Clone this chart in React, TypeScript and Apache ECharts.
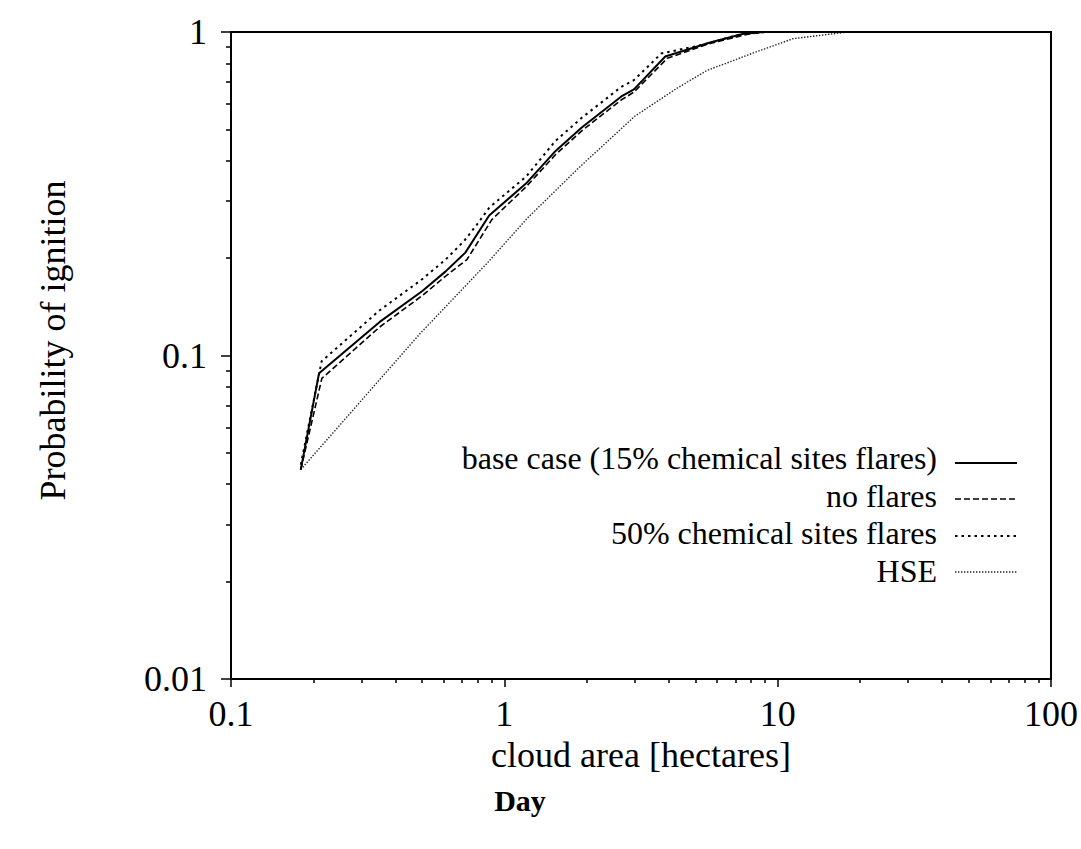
import React, { useEffect, useRef } from "react";
import * as echarts from "echarts";

// ---- data (cloud area in hectares, probability of ignition) ----
const baseX = [0.18, 0.21, 0.35, 0.5, 0.61, 0.72, 0.88, 1.2, 1.54, 1.92, 2.68, 2.98, 3.88, 5.66, 7.5, 9, 100];
const baseY = [0.0444, 0.0882, 0.127, 0.158, 0.182, 0.208, 0.271, 0.34, 0.429, 0.507, 0.632, 0.665, 0.84, 0.928, 0.988, 1, 1];

const noFlaresX = [0.18, 0.215, 0.35, 0.5, 0.61, 0.73, 0.9, 1.2, 1.54, 1.92, 2.68, 2.98, 3.95, 5.66, 7.8, 9, 100];
const noFlaresY = [0.0444, 0.085, 0.1225, 0.153, 0.176, 0.198, 0.263, 0.332, 0.418, 0.495, 0.617, 0.652, 0.83, 0.922, 0.985, 1, 1];

const flares50X = [0.18, 0.2146, 0.35, 0.5, 0.61, 0.713, 0.794, 0.882, 1.2, 1.54, 1.92, 2.68, 2.98, 3.75, 5.34, 7.5, 9, 100];
const flares50Y = [0.046, 0.096, 0.138, 0.172, 0.198, 0.226, 0.254, 0.287, 0.357, 0.461, 0.543, 0.677, 0.71, 0.858, 0.914, 0.99, 1, 1];

const hseX = [0.18, 0.49, 0.87, 1.21, 1.87, 3.0, 4.28, 5.5, 8.4, 11.4, 15.9, 18, 100];
const hseY = [0.0444, 0.1165, 0.194, 0.265, 0.38, 0.549, 0.67, 0.76, 0.87, 0.954, 0.987, 1, 1];

const seriesNames = [
  "base case (15% chemical sites flares)",
  "no flares",
  "50% chemical sites flares",
  "HSE",
];

const xMinorTicks = [0.2, 0.3, 0.4, 0.5, 0.6, 0.7, 0.8, 0.9, 2, 3, 4, 5, 6, 7, 8, 9, 20, 30, 40, 50, 60, 70, 80, 90];
const yMinorTicks = [0.02, 0.03, 0.04, 0.05, 0.06, 0.07, 0.08, 0.09, 0.2, 0.3, 0.4, 0.5, 0.6, 0.7, 0.8, 0.9];

const xTitle = "cloud area [hectares]";
const yTitle = "Probability of ignition";
const caption = "Day";

const zip = (xs: number[], ys: number[]) => xs.map((x, i) => [x, ys[i]]);

export default function App() {
  const ref = useRef<HTMLDivElement>(null);

  useEffect(() => {
    if (!ref.current) return;
    const chart = echarts.init(ref.current, null, { renderer: "svg" });
    const font = "'Liberation Serif', 'Times New Roman', serif";
    const black = "#000";

    const styles = [
      { color: black, width: 2, type: "solid" as any },
      { color: black, width: 1.6, type: [6, 3] as any },
      { color: black, width: 2, type: [2.5, 4] as any },
      { color: "#222", width: 1.4, type: [1.4, 1.6] as any },
    ];
    const datasets = [
      zip(baseX, baseY),
      zip(noFlaresX, noFlaresY),
      zip(flares50X, flares50Y),
      zip(hseX, hseY),
    ];

    const legendTextY = [458, 495.5, 533, 570.5];
    const legendLineY = [463, 499, 536, 572];
    const legendGraphics: any[] = [];
    seriesNames.forEach((n, i) => {
      legendGraphics.push({
        type: "text",
        x: 937,
        y: legendTextY[i],
        style: {
          text: n,
          fill: black,
          fontSize: 32,
          fontFamily: font,
          align: "right",
          verticalAlign: "middle",
        },
      });
      legendGraphics.push({
        type: "line",
        shape: { x1: 955, y1: legendLineY[i], x2: 1017, y2: legendLineY[i] },
        style: {
          stroke: styles[i].color,
          lineWidth: i === 0 ? 2 : styles[i].width,
          lineDash: i === 0 ? null : styles[i].type,
        },
      });
    });

    const axisLine = { show: true, onZero: false, lineStyle: { color: black, width: 2 } };

    chart.setOption({
      animation: false,
      backgroundColor: "#fff",
      grid: {
        left: 231,
        right: 29,
        top: 32,
        bottom: 170,
        show: true,
        borderColor: black,
        borderWidth: 2,
        backgroundColor: "transparent",
      },
      xAxis: [
        {
          type: "log",
          logBase: 10,
          min: 0.1,
          max: 100,
          position: "bottom",
          axisLine,
          axisTick: { show: true, length: 8, lineStyle: { color: black, width: 1.5 } },
          axisLabel: {
            color: black,
            fontFamily: font,
            fontSize: 36,
            margin: 17,
            formatter: (v: number) => String(v),
          },
          splitLine: { show: false },
          name: xTitle,
          nameLocation: "middle",
          nameGap: 42,
          nameTextStyle: { color: black, fontFamily: font, fontSize: 36 },
        },
        {
          type: "value",
          min: -1,
          max: 2,
          position: "bottom",
          axisLine: { show: false, onZero: false },
          axisTick: {
            show: true,
            length: 4,
            customValues: xMinorTicks.map((v) => Math.log10(v)),
            lineStyle: { color: black, width: 1.5 },
          },
          axisLabel: { show: false },
          splitLine: { show: false },
        },
      ],
      yAxis: [
        {
          type: "log",
          logBase: 10,
          min: 0.01,
          max: 1,
          position: "left",
          axisLine,
          axisTick: { show: true, length: 10, lineStyle: { color: black, width: 1.5 } },
          axisLabel: {
            color: black,
            fontFamily: font,
            fontSize: 36,
            margin: 24,
            formatter: (v: number) => String(v),
          },
          splitLine: { show: false },
          name: yTitle,
          nameLocation: "middle",
          nameGap: 160,
          nameTextStyle: { color: black, fontFamily: font, fontSize: 36, padding: [0, 0, 0, 30] },
        },
        {
          type: "value",
          min: -2,
          max: 0,
          position: "left",
          axisLine: { show: false, onZero: false },
          axisTick: {
            show: true,
            length: 5,
            customValues: yMinorTicks.map((v) => Math.log10(v)),
            lineStyle: { color: black, width: 1.5 },
          },
          axisLabel: { show: false },
          splitLine: { show: false },
        },
      ],
      series: datasets.map((d, i) => ({
        name: seriesNames[i],
        type: "line",
        xAxisIndex: 0,
        yAxisIndex: 0,
        data: d,
        symbol: "none",
        smooth: false,
        lineStyle: styles[i],
        z: 10 - i,
      })),
      graphic: [
        ...legendGraphics,
        {
          type: "text",
          x: 520,
          y: 800,
          style: {
            text: caption,
            fill: black,
            fontSize: 30,
            fontWeight: "bold",
            fontFamily: font,
            align: "center",
            verticalAlign: "middle",
          },
        },
      ],
    });

    return () => chart.dispose();
  }, []);

  return (
    <div
      ref={ref}
      style={{ position: "fixed", left: 0, top: 0, width: 1081, height: 849, background: "#fff" }}
    />
  );
}
